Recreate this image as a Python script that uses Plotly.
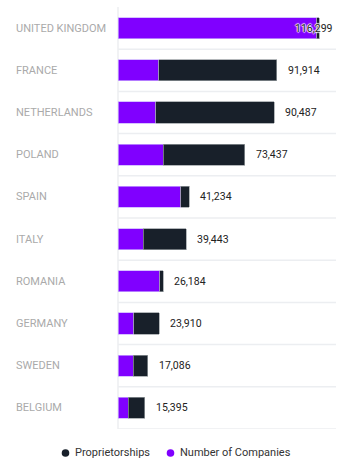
import plotly.graph_objects as go

countries = ["UNITED KINGDOM", "FRANCE", "NETHERLANDS", "POLAND", "SPAIN",
             "ITALY", "ROMANIA", "GERMANY", "SWEDEN", "BELGIUM"]
companies = [115020, 23530, 21790, 26190, 36240, 14640, 24280, 9250, 8860, 5970]
proprietorships = [1279, 68384, 68697, 47247, 4994, 24803, 1904, 14660, 8226, 9425]
totals = [116299, 91914, 90487, 73437, 41234, 39443, 26184, 23910, 17086, 15395]
total_labels = ["116,299", "91,914", "90,487", "73,437", "41,234",
                "39,443", "26,184", "23,910", "17,086", "15,395"]
series_names = ["Proprietorships", "Number of Companies"]

XMAX = 126100
PURPLE = "#8000ff"
DARK = "#18202a"
FONT = "Roboto"
HALO = "1px 0 1px white, -1px 0 1px white, 0 1px 1px white, 0 -1px 1px white"

# layout geometry (pixels)
L, R, T, B = 118, 16, 7, 45
W, H = 352, 474
PW, PH = W - L - R, H - T - B


def px_x(px):
    return (px - L) / PW


def px_y(py):
    return (H - B - py) / PH


fig = go.Figure()
fig.add_trace(go.Bar(
    y=countries, x=companies, orientation="h", name=series_names[1],
    marker=dict(color=PURPLE, line=dict(color="rgba(200,170,255,0.9)", width=0.8)),
    width=0.5, showlegend=False, hoverinfo="skip"))
fig.add_trace(go.Bar(
    y=countries, x=proprietorships, orientation="h", name=series_names[0],
    marker=dict(color=DARK, line=dict(color="rgba(150,155,160,0.9)", width=0.8)),
    width=0.5, showlegend=False, hoverinfo="skip"))

# value labels
for c, t, lab in zip(countries, totals, total_labels):
    if t > 0.85 * XMAX:
        fig.add_annotation(x=XMAX, y=c, text=lab, showarrow=False, xanchor="right",
                           xshift=-1, font=dict(family=FONT, size=10.5, color="#222",
                                                shadow=HALO))
    else:
        fig.add_annotation(x=t, y=c, text=lab, showarrow=False, xanchor="left",
                           xshift=9, font=dict(family=FONT, size=10.5, color="#222"))

# category labels (left aligned)
for c in countries:
    fig.add_annotation(x=px_x(14), xref="paper", y=c, yref="y", text=c, showarrow=False,
                       xanchor="left", font=dict(family=FONT, size=11, color="#aaaaaa"))

# boundary gridlines
for i in range(len(countries)):
    fig.add_shape(type="line", xref="paper", x0=0, x1=1, yref="y", y0=i + 0.5, y1=i + 0.5,
                  line=dict(color="#eceef1", width=1.5), layer="below")
fig.add_shape(type="line", xref="paper", x0=0, x1=0, yref="paper", y0=0, y1=1,
              line=dict(color="#eceef1", width=1.5), layer="below")

# manual legend (round markers)
legend_dot_px = [65.5, 170.5]
legend_y = px_y(453)
for nm, col, dx in zip(series_names, [DARK, PURPLE], legend_dot_px):
    fig.add_shape(type="circle", xref="paper", yref="paper", xsizemode="pixel",
                  ysizemode="pixel", xanchor=px_x(dx), yanchor=legend_y,
                  x0=-3.8, x1=3.8, y0=-3.8, y1=3.8,
                  fillcolor=col, line=dict(width=0))
    fig.add_annotation(x=px_x(dx + 7), xref="paper", y=legend_y, yref="paper", text=nm,
                       showarrow=False, xanchor="left", yanchor="middle",
                       font=dict(family=FONT, size=11, color="#333"))

fig.update_layout(
    width=W, height=H,
    margin=dict(l=L, r=R, t=T, b=B, autoexpand=False),
    barmode="stack",
    plot_bgcolor="white", paper_bgcolor="white",
    font=dict(family=FONT, color="#333"),
    xaxis=dict(range=[0, XMAX], showgrid=False, zeroline=False, showticklabels=False,
               fixedrange=True),
    yaxis=dict(autorange=False, range=[9.5, -0.5], showgrid=False, zeroline=False,
               showticklabels=False, type="category"),
    showlegend=False,
)

fig.write_html("out.html")
